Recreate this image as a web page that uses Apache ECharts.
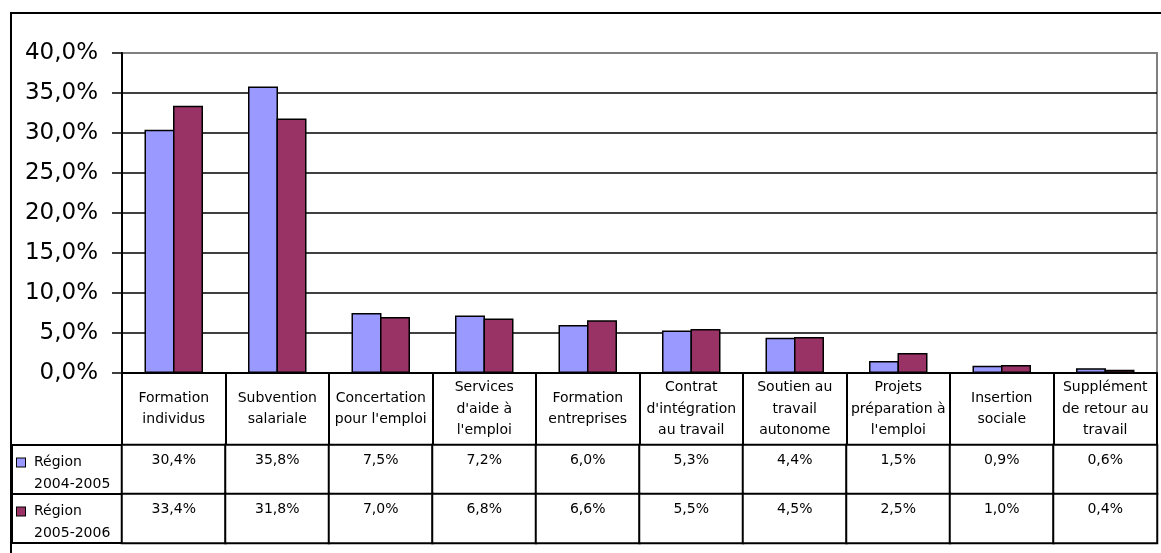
<!DOCTYPE html>
<html><head><meta charset="utf-8">
<script src="https://cdn.jsdelivr.net/npm/echarts@6/dist/echarts.min.js"></script>
<style>
html,body{margin:0;padding:0;background:#fff;}
#frame{position:absolute;left:10px;top:12px;width:1151px;height:541px;border-top:2px solid #000;border-left:2px solid #000;box-sizing:border-box;}
#chart{position:absolute;left:0;top:0;width:1161px;height:553px;}
</style></head><body>
<div id="frame"></div><div id="chart"></div>
<script>
const categories = [
  "Formation\nindividus",
  "Subvention\nsalariale",
  "Concertation\npour l'emploi",
  "Services\nd'aide à\nl'emploi",
  "Formation\nentreprises",
  "Contrat\nd'intégration\nau travail",
  "Soutien au\ntravail\nautonome",
  "Projets\npréparation à\nl'emploi",
  "Insertion\nsociale",
  "Supplément\nde retour au\ntravail"
];
const seriesNames = ["Région 2004-2005", "Région 2005-2006"];
const region2004_2005 = [30.4, 35.8, 7.5, 7.2, 6.0, 5.3, 4.4, 1.5, 0.9, 0.6];
const region2005_2006 = [33.4, 31.8, 7.0, 6.8, 6.6, 5.5, 4.5, 2.5, 1.0, 0.4];
const seriesColors = ["#9999FF", "#993366"];
const yMin = 0, yMax = 40, yStep = 5;

const FONT = "DejaVu Sans";
const fmt = v => v.toFixed(1).replace('.', ',') + '%';

const rows = [region2004_2005, region2005_2006];
const tableData = [];
rows.forEach((vals, r) => vals.forEach((v, i) => tableData.push([i, r, v])));

const gridLineColors = [];
for (let v = yMin; v <= yMax; v += yStep) gridLineColors.push(v === yMax ? '#808080' : '#000');

const chart = echarts.init(document.getElementById('chart'), null, {renderer: 'canvas'});
chart.setOption({
  animation: false,
  backgroundColor: 'transparent',
  grid: [
    {left: 122, right: 4, top: 53, bottom: 180, show: true, borderColor: '#808080', borderWidth: 2, backgroundColor: 'transparent'},
    {left: 122, right: 4, top: 445, height: 98}
  ],
  xAxis: [
    {
      gridIndex: 0, type: 'category', data: categories,
      axisLine: {show: true, lineStyle: {color: '#000', width: 2}},
      axisTick: {show: true, length: 72, interval: 0, lineStyle: {color: '#000', width: 2}},
      axisLabel: {interval: 0, margin: 36, verticalAlign: 'middle', color: '#000', fontFamily: FONT, fontSize: 14, lineHeight: 21.5},
      splitLine: {show: false}
    },
    {gridIndex: 1, type: 'category', data: categories, show: false}
  ],
  yAxis: [
    {
      gridIndex: 0, type: 'value', min: yMin, max: yMax, interval: yStep,
      axisLine: {show: true, lineStyle: {color: '#000', width: 2}},
      axisTick: {show: true, length: 10, lineStyle: {color: '#000', width: 1.5}},
      axisLabel: {margin: 24, color: '#000', fontFamily: FONT, fontSize: 23, formatter: v => fmt(v)},
      splitLine: {show: true, lineStyle: {color: gridLineColors, width: 1.5}}
    },
    {
      gridIndex: 1, type: 'category', data: seriesNames, inverse: true,
      axisLine: {show: false},
      axisTick: {show: true, length: 110, interval: 0, lineStyle: {color: '#000', width: 2}},
      axisLabel: {
        align: 'left', margin: 105, padding: [8, 0, 0, 0],
        formatter: (v, idx) => {
          const sp = v.indexOf(' ');
          return '{sq' + idx + '|}{gap|}{t|' + v.slice(0, sp) + '}\n{ind|}{t|' + v.slice(sp + 1) + '}';
        },
        rich: {
          sq0: {width: 8, height: 8, backgroundColor: seriesColors[0], borderColor: '#000', borderWidth: 1},
          sq1: {width: 8, height: 8, backgroundColor: seriesColors[1], borderColor: '#000', borderWidth: 1},
          gap: {width: 9},
          ind: {width: 17},
          t: {fontFamily: FONT, fontSize: 14, color: '#000', lineHeight: 22}
        }
      },
      splitLine: {show: false}
    },
    {
      gridIndex: 1, type: 'category', data: seriesNames, position: 'left', offset: 110,
      axisLine: {show: true, lineStyle: {color: '#000', width: 2}},
      axisTick: {show: false}, axisLabel: {show: false}, splitLine: {show: false}
    }
  ],
  visualMap: {show: false, seriesIndex: 2, min: 0, max: 40, inRange: {color: ['#ffffff', '#ffffff']}},
  series: [
    {
      name: seriesNames[0], type: 'bar', xAxisIndex: 0, yAxisIndex: 0, data: region2004_2005,
      barWidth: 30, barGap: '-5%',
      itemStyle: {color: seriesColors[0], borderColor: '#000', borderWidth: 1.5}
    },
    {
      name: seriesNames[1], type: 'bar', xAxisIndex: 0, yAxisIndex: 0, data: region2005_2006,
      barWidth: 30, barGap: '-5%',
      itemStyle: {color: seriesColors[1], borderColor: '#000', borderWidth: 1.5}
    },
    {
      type: 'heatmap', xAxisIndex: 1, yAxisIndex: 1, data: tableData,
      itemStyle: {color: '#fff', borderColor: '#000', borderWidth: 2},
      label: {show: true, position: 'insideTop', distance: 10, color: '#000', fontFamily: FONT, fontSize: 14,
        formatter: p => fmt(p.value[2])},
      emphasis: {disabled: true}
    }
  ]
});
</script>
</body></html>
